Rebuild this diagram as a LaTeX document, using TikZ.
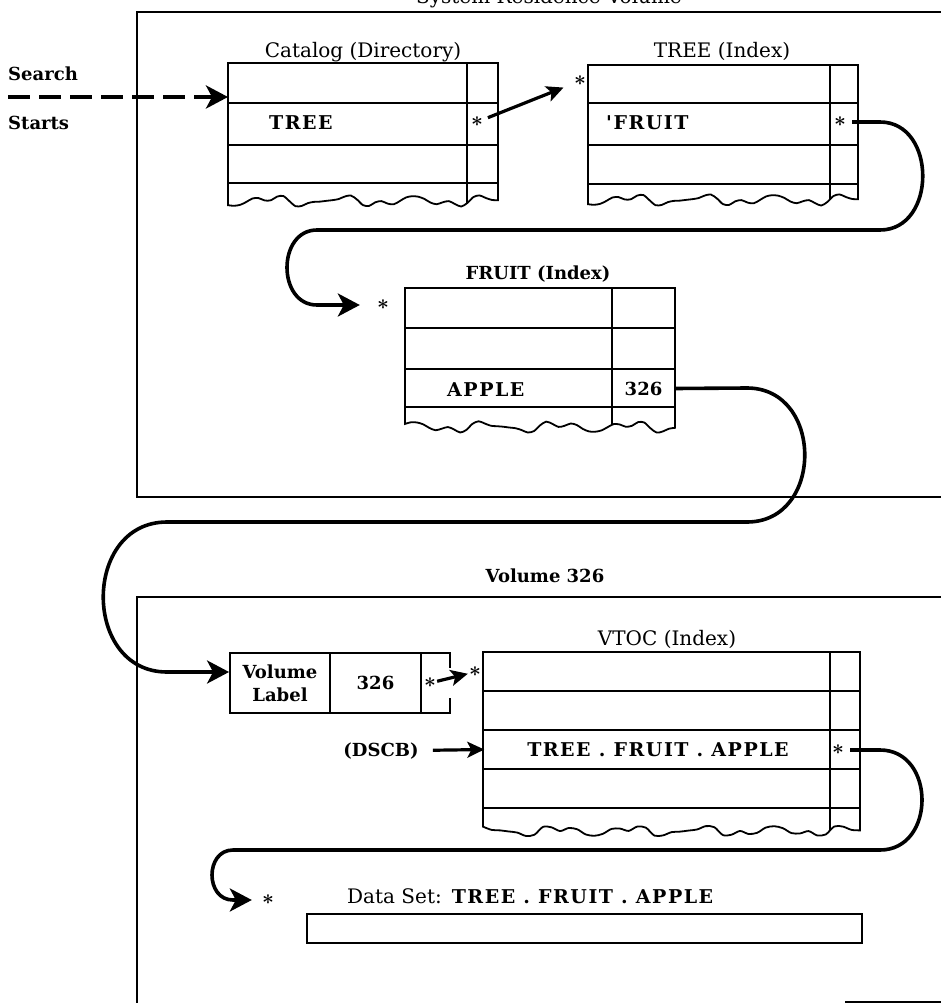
\documentclass[tikz,border=0pt]{standalone}
\usepackage{fontspec}
\setmainfont{DejaVu Serif}
\newfontfamily\cellfont[LetterSpace=8]{DejaVu Serif}
\usetikzlibrary{arrows.meta}
\tikzset{
  vbox/.style={line width=2.8pt},
  tbl/.style={line width=1.8pt},
  ttl/.style={font=\fontsize{20}{22}\selectfont, inner sep=0pt, anchor=base},
  lbl/.style={font=\fontsize{18}{22}\selectfont\bfseries, inner sep=0pt},
  entry/.style={font=\cellfont\fontsize{19}{21}\selectfont\bfseries, inner sep=0pt},
  cell/.style={font=\fontsize{18}{23}\selectfont\bfseries, inner sep=0pt, align=center},
  astk/.style={font=\fontsize{22}{22}\selectfont\boldmath, inner sep=1pt},
  link/.style={line width=3.6pt, -{Stealth[length=22pt,width=23pt,inset=6pt]}},
  jump/.style={line width=3.2pt, -{Stealth[length=17pt,width=16pt,inset=4pt]}}
}
\begin{document}
\begin{tikzpicture}[x=1pt, y=-1pt, declare function={tear(\t)=3.5*sin(5*\t)+2.5*sin(11*\t+40)+1.2*sin(15*\t);}]
\useasboundingbox (0,0) rectangle (941,1003);

\draw[vbox] (137,12) rectangle (950,497);
\draw[vbox] (950,597) -- (137,597) -- (137,1010);
\draw[vbox] (845,1002) -- (950,1002);
\node[ttl] (sysres) at (549,4) {System Residence Volume};
\node[lbl, anchor=base] (vol) at (545,582) {Volume 326};

\foreach \xl/\xr/\xd/\yt/\yb/\rows in {228/498/467/63/201/{103,145,183}, 588/858/830/65/200/{103,145,184}, 405/675/612/288/427/{328,369,407}, 483/860/830/652/831/{691,730,769,808}}{
  \draw[tbl] (\xl,\yt) -- plot[domain=\xl:\xr, samples=45, smooth] (\x,{\yb+tear(\x)}) -- (\xr,\yt) -- cycle;
  \draw[tbl] (\xd,\yt) -- (\xd,{\yb+tear(\xd)});
  \foreach \yr in \rows \draw[tbl] (\xl,\yr) -- (\xr,\yr);
}

\node[ttl] (catttl) at (363,58) {Catalog (Directory)};
\node[ttl] (treettl) at (722,58) {TREE (Index)};
\node[lbl, anchor=base] (fruitttl) at (538,279) {FRUIT (Index)};
\node[ttl] (vtocttl) at (667,645) {VTOC (Index)};

\node[lbl, anchor=base west] (search) at (8,81) {Search};
\node[lbl, anchor=base west] (starts) at (8,130) {Starts};
\coordinate (entry) at (8,97);
\coordinate (cat) at (228,63);

\node[entry, anchor=base west] (cattree) at (269,130) {TREE};
\node[entry, anchor=base west] (treefruit) at (606,130) {'FRUIT};
\node[entry, anchor=base west] (apple) at (447,396) {APPLE};
\node[cell, minimum width=63pt, minimum height=38pt] (f326) at (643.5,388.5) {326};

\node[cell, draw, tbl, minimum width=100pt, minimum height=60pt] (vlab) at (280,683) {Volume\\Label};
\node[cell, draw, tbl, minimum width=91pt, minimum height=60pt] (vnum) at (375.5,683) {326};
\node[minimum width=29pt, minimum height=60pt, inner sep=0pt] (vptr) at (435.5,683) {};
\draw[tbl] ([yshift=-15pt]vptr.north east) -- (vptr.north east) -- (vptr.north west) -- (vptr.south west) -- (vptr.south east) -- ([yshift=15pt]vptr.south east);

\node[lbl] (dscb) at (381,751) {(DSCB)};
\node[entry, minimum width=347pt, minimum height=39pt] (vrow) at (658,749.5) {TREE . FRUIT . APPLE};

\node[draw, tbl, minimum width=555pt, minimum height=29pt, inner sep=0pt] (dsbox) at (584.5,928.5) {};
\node[anchor=base west, inner sep=0pt] (dsname) at (347,903) {\fontsize{20}{22}\selectfont Data Set:\hspace{10pt}{\cellfont\bfseries\fontsize{19}{21}\selectfont TREE . FRUIT . APPLE}};

\node[astk] (cstar) at (477,122) {$\ast$};
\node[astk] (tistar) at (580,81) {$\ast$};
\node[astk] (tpstar) at (840,122) {$\ast$};
\node[astk] (fistar) at (383,305) {$\ast$};
\node[astk] (vlstar) at (430,683) {$\ast$};
\node[astk] (vtstar) at (475,672) {$\ast$};
\node[astk] (vpstar) at (838,750) {$\ast$};
\node[astk] (dsstar) at (268,900) {$\ast$};

\draw[link, line width=4.5pt, dash pattern=on 22pt off 9pt] (entry) -- (entry -| cat);
\draw[jump, shorten <=4pt, shorten >=10pt] (cstar) -- (tistar);
\draw[link, shorten <=5pt, shorten >=16pt] (tpstar.east) -- (880,122) .. controls (937,122) and (937,230) .. (880,230) -- (317,230) .. controls (277,230) and (277,305) .. (317,305) -- (fistar.west);
\draw[link] (f326.east) -- (747,388) .. controls (824,388) and (824,522) .. (747,522) -- (167,522) .. controls (82,522) and (82,672) .. (167,672) -- ([yshift=11pt]vlab.west);
\draw[jump] (vlstar) -- (vtstar);
\draw[jump, shorten <=14pt] (dscb) -- (vrow.west);
\draw[link, shorten <=5pt, shorten >=9pt] (vpstar.east) -- (880,750) .. controls (936,750) and (936,850) .. (880,850) -- (233,850) .. controls (205,850) and (205,900) .. (233,900) -- (dsstar.west);
\end{tikzpicture}
\end{document}
